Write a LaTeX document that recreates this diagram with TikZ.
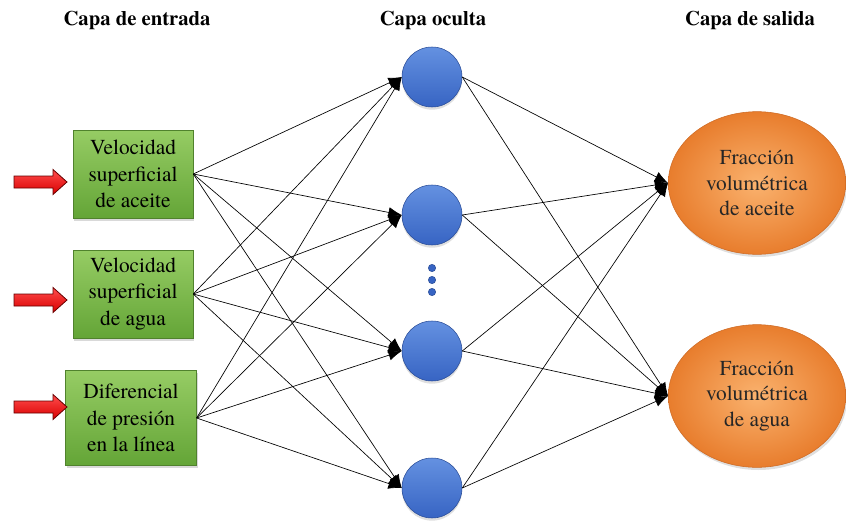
\documentclass[tikz,border=0pt]{standalone}
\usepackage{fontspec}
\setmainfont{texgyretermes}[Extension=.otf, UprightFont=*-regular, BoldFont=*-bold, ItalicFont=*-italic, BoldItalicFont=*-bolditalic]
\usetikzlibrary{arrows.meta,shapes.geometric,shadows}
\definecolor{boxtop}{RGB}{150,204,100}
\definecolor{boxbot}{RGB}{100,165,55}
\definecolor{boxline}{RGB}{80,130,45}
\definecolor{balltop}{RGB}{100,145,225}
\definecolor{ballbot}{RGB}{55,100,195}
\definecolor{ballline}{RGB}{40,75,150}
\definecolor{ovin}{RGB}{250,178,110}
\definecolor{ovout}{RGB}{232,125,45}
\definecolor{ovline}{RGB}{205,105,35}
\tikzset{
  layer/.style={font=\bfseries\fontsize{15.5}{18}\selectfont},
  inbox/.style={rectangle, draw=boxline, top color=boxtop, bottom color=boxbot,
    align=center, font=\fontsize{16}{20}\selectfont, inner sep=2pt,
    minimum width=90pt, minimum height=66pt,
    drop shadow={opacity=0.3, shadow xshift=1pt, shadow yshift=-2pt}},
  neuron/.style={circle, draw=ballline, top color=balltop, bottom color=ballbot,
    minimum size=45pt, inner sep=0pt,
    drop shadow={opacity=0.25, shadow xshift=0pt, shadow yshift=-2pt}},
  outnode/.style={ellipse, draw=ovline, inner color=ovin, outer color=ovout,
    align=center, font=\fontsize{16}{19}\selectfont, text=black!85,
    minimum width=133pt, minimum height=107pt, inner sep=0pt,
    drop shadow={opacity=0.25, shadow xshift=1pt, shadow yshift=-2pt}},
  feed/.style={draw=red!40!black, line width=0.6pt, top color=red!70!white, bottom color=red!85!black},
  dotnode/.style={circle, fill=ballbot, draw=ballline, inner sep=0pt, minimum size=5.5pt}
}
\begin{document}
\begin{tikzpicture}[x=0.75pt,y=-0.75pt,>={Latex[length=10pt,width=8pt]}]
  \useasboundingbox (0,0) rectangle (846,521);
  % titulos de las capas
  \node[layer] (tin) at (137,20) {Capa de entrada};
  \node[layer] (thid) at (433,20) {Capa oculta};
  \node[layer] (tout) at (750,20) {Capa de salida};
  % capa de entrada
  \node[inbox] (i1) at (133,174) {Velocidad\\superficial\\de aceite};
  \node[inbox] (i2) at (133,294) {Velocidad\\superficial\\de agua};
  \node[inbox, minimum width=98pt, minimum height=71pt] (i3) at (131,418) {Diferencial\\de presión\\en la línea};
  \shadedraw[feed, shift={(0,182)}] (14,-6) -- (53,-6) -- (53,-12.5) -- (67,0) -- (53,12.5) -- (53,6) -- (14,6) -- cycle;
  \shadedraw[feed, shift={(0,300)}] (14,-6) -- (53,-6) -- (53,-12.5) -- (67,0) -- (53,12.5) -- (53,6) -- (14,6) -- cycle;
  \shadedraw[feed, shift={(0,407)}] (14,-6) -- (53,-6) -- (53,-12.5) -- (67,0) -- (53,12.5) -- (53,6) -- (14,6) -- cycle;
  % capa oculta
  \node[neuron] (h1) at (432,77) {};
  \node[neuron] (h2) at (432,215) {};
  \node[neuron] (h3) at (432,351) {};
  \node[neuron] (h4) at (432,488) {};
  \node[dotnode] (d1) at (432,268) {};
  \node[dotnode] (d2) at (432,280) {};
  \node[dotnode] (d3) at (432,292) {};
  % capa de salida
  \node[outnode] (o1) at (757,183) {Fracción\\volumétrica\\de aceite};
  \node[outnode] (o2) at (757,396) {Fracción\\volumétrica\\de agua};
  \begin{scope}[->, line width=0.5pt]
    \draw (i1.east) to (h1.west);
    \draw (i1.east) to (h2.west);
    \draw (i1.east) to (h3.west);
    \draw (i1.east) to (h4.west);
    \draw (i2.east) to (h1.west);
    \draw (i2.east) to (h2.west);
    \draw (i2.east) to (h3.west);
    \draw (i2.east) to (h4.west);
    \draw (i3.east) to (h1.west);
    \draw (i3.east) to (h2.west);
    \draw (i3.east) to (h3.west);
    \draw (i3.east) to (h4.west);
    \draw (h1.east) to (o1.west);
    \draw (h1.east) to (o2.west);
    \draw (h2.east) to (o1.west);
    \draw (h2.east) to (o2.west);
    \draw (h3.east) to (o1.west);
    \draw (h3.east) to (o2.west);
    \draw (h4.east) to (o1.west);
    \draw (h4.east) to (o2.west);
  \end{scope}
\end{tikzpicture}
\end{document}
